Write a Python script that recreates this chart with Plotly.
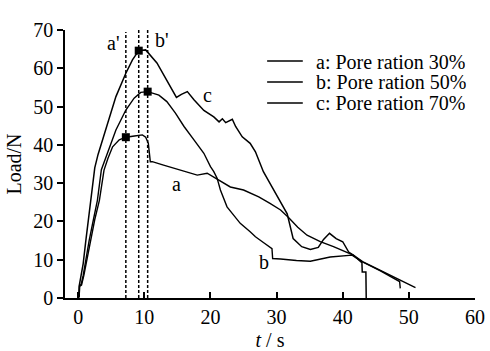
import plotly.graph_objects as go

# ---- data ----
t_a = [0, 0.15, 0.2, 0.5, 0.85, 1.3, 1.9, 2.5, 3.2, 3.9, 4.5, 5.2, 6.2, 7.2, 8.5, 9.7, 10.2, 10.6,
       10.9, 11.2, 12.9, 15.5, 18, 19.5, 20.7, 23, 25, 27.3, 29, 30.6, 31.8, 33.2, 34.6, 36.6, 38.6,
       40.6, 41.6, 43, 45.7, 48.7, 51]
y_a = [0, 0.5, 3.0, 3.4, 5.9, 10, 15, 20.5, 25.5, 33.4, 36.5, 39.5, 41.3, 42, 42.3, 42.6, 42, 40.4,
       35.6, 35.6, 34.7, 33.4, 32.1, 32.6, 31.3, 29, 28.2, 26.4, 24.7, 23, 21, 18.5, 16.4, 14.7, 13.4,
       12, 11.2, 9.5, 7.2, 4.6, 2.7]

t_b = [0, 0.15, 0.2, 0.45, 0.75, 1.2, 1.65, 2.3, 2.9, 3.5, 4.7, 5.7, 7.2, 8.45, 9.45, 10.5, 12.2,
       13.4, 14.7, 16, 17.5, 19, 20, 20.5, 21, 21.5, 22.5, 24.5, 26, 26.8, 28, 29.3, 29.4, 30.6, 33,
       35.1, 38.1, 41.4, 43, 45.7, 48.6, 48.7]
y_b = [0, 0.5, 3.2, 3.6, 5.9, 10.5, 15, 20.5, 25.5, 33.5, 39.5, 43.9, 49.1, 52.2, 53.7, 53.9, 53,
       51.3, 48.3, 44.8, 41.3, 37.8, 34.3, 33.0, 31.3, 28.2, 23.8, 19.5, 17.3, 16, 14.5, 12.9, 10.3,
       10.2, 9.8, 9.6, 10.7, 11.2, 9.4, 7.1, 4.3, 2.5]

t_c = [0, 0.1, 0.15, 0.4, 0.75, 1.15, 1.5, 1.9, 2.5, 3.0, 3.7, 4.7, 5.7, 7.2, 8.2, 9.15, 10.2, 11.9,
       13.4, 14.85, 15.6, 16.5, 17.5, 19, 20.5, 21.3, 21.8, 22.3, 23.3, 23.8, 24.8, 26, 26.8, 28,
       29.3, 30.3, 31.6, 32.5, 33.8, 35.1, 36.3, 37.1, 38, 39, 40, 40.9, 41.6, 42.9, 42.95, 43.5, 43.55]
y_c = [0, 0.5, 3.2, 5.9, 9, 15, 20, 25.5, 34, 37.5, 41.3, 47, 52.6, 58.7, 62.2, 64.6, 64.8, 61.4,
       57, 52.4, 53.2, 53.9, 51.8, 49, 47.3, 46, 46.8, 45.8, 46.7, 44.8, 42.1, 40.4, 38.2, 33, 29, 26,
       22, 15.5, 13.4, 12.7, 13.2, 15.3, 16.9, 15.5, 14.7, 12, 11.2, 9.2, 6.8, 6.8, 0]

peak_t = [7.2, 9.15, 10.5]
peak_y = [42, 64.6, 53.9]
peak_names = ["a'", "c'", "b'"]
guide_top = [69.5, 70, 70]

legend_labels = ["a: Pore ration 30%", "b: Pore ration 50%", "c: Pore ration 70%"]
curve_label_t = [14.8, 28.1, 19.6]
curve_label_y = [29.9, 9.4, 53]
prime_label_t = [5.3, 9.3, 12.6]
prime_label_y = [66.6, 72.6, 67.4]

FONT = "Liberation Serif, Times New Roman, DejaVu Serif, serif"

fig = go.Figure()

# dotted guide lines
for tp, top in zip(peak_t, guide_top):
    fig.add_trace(go.Scatter(x=[tp, tp], y=[0, top], mode="lines",
                             line=dict(color="black", width=1.5, dash="3px,2px"),
                             showlegend=False, hoverinfo="skip", cliponaxis=False))

for tt, yy, w in [(t_a, y_a, 1.4), (t_b, y_b, 1.4), (t_c, y_c, 1.5)]:
    fig.add_trace(go.Scatter(x=tt, y=yy, mode="lines", line=dict(color="black", width=w),
                             showlegend=False))

fig.add_trace(go.Scatter(x=peak_t, y=peak_y, mode="markers",
                         marker=dict(symbol="square", size=8, color="black"),
                         showlegend=False))

annotations = []
for lab, tx, ty in zip(["a", "b", "c"], curve_label_t, curve_label_y):
    annotations.append(dict(x=tx, y=ty, text=lab, showarrow=False,
                            font=dict(family=FONT, size=20, color="black")))
for lab, tx, ty in zip(peak_names, prime_label_t, prime_label_y):
    annotations.append(dict(x=tx, y=ty, text=lab, showarrow=False,
                            font=dict(family=FONT, size=20, color="black")))

# manual legend
shapes = []
leg_rows = [0.884, 0.806, 0.728]
for lab, yr in zip(legend_labels, leg_rows):
    shapes.append(dict(type="line", xref="paper", yref="paper", x0=0.493, x1=0.580, y0=yr, y1=yr,
                       line=dict(color="black", width=1.5)))
    annotations.append(dict(xref="paper", yref="paper", x=0.607, y=yr, xanchor="left",
                            yanchor="middle", text=lab, showarrow=False, height=19,
                            font=dict(family=FONT, size=20, color="black")))

fig.update_layout(
    width=490, height=351,
    margin=dict(l=65, r=15, t=30, b=53),
    paper_bgcolor="white", plot_bgcolor="white",
    font=dict(family=FONT, size=20, color="black"),
    annotations=annotations, shapes=shapes,
    showlegend=False,
)
fig.update_xaxes(range=[-2, 60], tickvals=[0, 10, 20, 30, 40, 50, 60], showline=True,
                 linecolor="black", linewidth=1.5, ticks="inside", ticklen=6, tickwidth=1.5,
                 tickcolor="black", showgrid=False, zeroline=False, automargin=False,
                 tickfont=dict(family=FONT, size=20),
                 title=dict(text="<i>t</i> / s", standoff=8, font=dict(family=FONT, size=20)))
fig.update_yaxes(range=[0, 70], tickvals=[0, 10, 20, 30, 40, 50, 60, 70], showline=True,
                 linecolor="black", linewidth=1.5, ticks="outside", ticklen=6, tickwidth=1.5,
                 tickcolor="black", showgrid=False, zeroline=False, automargin=False,
                 tickfont=dict(family=FONT, size=20),
                 title=dict(text="Load/N", standoff=6, font=dict(family=FONT, size=20)))

fig.write_html("out.html")
